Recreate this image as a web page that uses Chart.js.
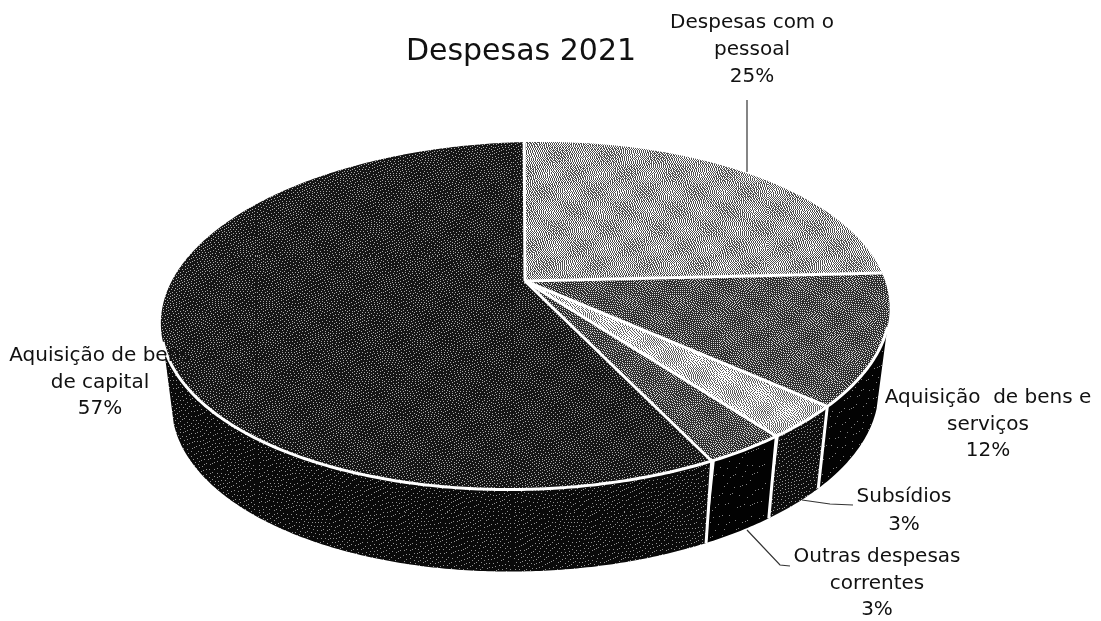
<!DOCTYPE html>
<html><head><meta charset="utf-8">
<style>html,body{margin:0;padding:0;background:#fff}canvas{display:block}</style>
<script src="https://cdn.jsdelivr.net/npm/chart.js@4"></script>
</head><body><canvas id="c" width="1101" height="621"></canvas>
<script>
const titleText = "Despesas 2021";
const categories = ["Despesas com o pessoal","Aquisição de bens e serviços","Subsídios","Outras despesas correntes","Aquisição de bens de capital"];
const values = [25,12,3,3,57];
const topColors = ["#a0a0a0","#5a5a5a","#bebebe","#5a5a5a","#2a2a2a"];
const wallColors = ["#0a0a0a","#060606","#1a1a1a","#050505","#141414"];
const labelLines = [["Despesas com o","pessoal"],["Aquisição  de bens e","serviços"],["Subsídios"],["Outras despesas","correntes"],["Aquisição de bens","de capital"]];

// layout (not data)
const labelPos = [[752,23,27],[988,398,26.5],[904,497,28],[877,557,26.5],[100,356,26.5]];
const leaders = [[[747,100],[747,172]],[],[[802,500],[830,504],[853,505]],[[747,530],[780,565],[790,566]],[]];
const H = {a:357,b:-104,c:525,d:-8,e:110.5,f:281,g:0,h:-0.2};
const DEPTH = 82, WALL_SCALE = 0.97, FRONT = [1.88,4.41];

function project(t,bottom){
  const u=Math.sin(t), v=-Math.cos(t), D=1+H.g*u+H.h*v;
  let x=(H.a*u+H.b*v+H.c)/D, y=(H.d*u+H.e*v+H.f)/D;
  if(bottom){x=H.c+(x-H.c)*WALL_SCALE;y+=DEPTH;}
  return [x,y];
}
function dither(hex){
  const n=256,base=parseInt(hex.slice(1,3),16);
  const lo=base*0.5, hi=Math.min(255,base+125);
  const p=(base-lo)/(hi-lo);
  const cv=document.createElement('canvas');cv.width=cv.height=n;
  const cx=cv.getContext('2d'),img=cx.createImageData(n,n);
  const buf=new Float32Array(n*n*2);
  const w=2*Math.PI/n;
  for(let y=0;y<2*n;y++)for(let x=0;x<n;x++){
    buf[y*n+x]=p*(1+0.22*Math.sin(5*w*x+Math.sin(3*w*y))*Math.sin(7*w*y));
  }
  for(let y=0;y<2*n;y++)for(let x=0;x<n;x++){
    const i=y*n+x,o=buf[i],q=o<0.5?0:1,er=o-q;
    buf[y*n+(x+1)%n]+=er*7/16;
    if(y+1<2*n){
      buf[(y+1)*n+x]+=er*5/16;
      buf[(y+1)*n+(x+n-1)%n]+=er*3/16;
      buf[(y+1)*n+(x+1)%n]+=er/16;
    }
    if(y>=n){
      const s=q?hi:lo,k=((y-n)*n+x)*4;
      img.data[k]=img.data[k+1]=img.data[k+2]=s;img.data[k+3]=255;
    }
  }
  cx.putImageData(img,0,0);
  return cx.createPattern(cv,'repeat');
}
const pie3d={
  id:'pie3d',
  beforeDatasetsDraw(chart){
    const ctx=chart.ctx, arcs=chart.getDatasetMeta(0).data;
    const th=arcs.map(a=>[a.startAngle+Math.PI/2,a.endAngle+Math.PI/2]);
    const STEP=0.01;
    ctx.save();
    arcs.forEach((a,i)=>{
      const s=Math.max(th[i][0],FRONT[0]),e=Math.min(th[i][1],FRONT[1]);
      if(e<=s)return;
      ctx.beginPath();
      for(let t=s;t<e;t+=STEP){const p=project(t,false);ctx.lineTo(p[0],p[1]);}
      for(let t=e;t>s;t-=STEP){const p=project(t,true);ctx.lineTo(p[0],p[1]);}
      const q=project(s,true);ctx.lineTo(q[0],q[1]);
      ctx.closePath();
      ctx.fillStyle=dither(wallColors[i]);ctx.fill();
    });
    arcs.forEach((a,i)=>{
      ctx.beginPath();ctx.moveTo(H.c,H.f);
      for(let t=th[i][0];t<th[i][1];t+=STEP){const p=project(t,false);ctx.lineTo(p[0],p[1]);}
      const q=project(th[i][1],false);ctx.lineTo(q[0],q[1]);
      ctx.closePath();
      ctx.fillStyle=dither(topColors[i]);ctx.fill();
    });
    ctx.strokeStyle='#fff';ctx.lineWidth=3;ctx.lineJoin='round';
    ctx.beginPath();
    for(let t=FRONT[0];t<FRONT[1];t+=STEP){const p=project(t,false);ctx.lineTo(p[0],p[1]);}
    ctx.stroke();
    arcs.forEach((a,i)=>{
      const t=th[i][0],p=project(t,false);
      ctx.beginPath();ctx.moveTo(H.c,H.f);ctx.lineTo(p[0],p[1]);ctx.stroke();
      if(t>FRONT[0]&&t<FRONT[1]){
        const b=project(t,true);
        ctx.beginPath();ctx.moveTo(p[0],p[1]);ctx.lineTo(b[0],b[1]);ctx.stroke();
      }
    });
    ctx.restore();
    return false;
  },
  afterDraw(chart){
    const ctx=chart.ctx;
    ctx.save();
    ctx.strokeStyle='#333';ctx.lineWidth=1.2;
    leaders.forEach(l=>{
      if(!l.length)return;
      ctx.beginPath();l.forEach(p=>ctx.lineTo(p[0],p[1]));ctx.stroke();
    });
    ctx.fillStyle='#111';ctx.textAlign='center';ctx.textBaseline='middle';
    ctx.font='20px "DejaVu Sans"';
    categories.forEach((c,i)=>{
      const [x,y,lh]=labelPos[i];
      const lines=labelLines[i].concat([values[i]+'%']);
      lines.forEach((s,j)=>ctx.fillText(s,x,y+j*lh));
    });
    ctx.restore();
  }
};
new Chart(document.getElementById('c'),{
  type:'pie',
  data:{labels:categories,datasets:[{data:values,backgroundColor:topColors,borderWidth:0}]},
  options:{
    responsive:false,animation:false,
    layout:{padding:{right:59}},
    plugins:{
      legend:{display:false},tooltip:{enabled:false},
      title:{display:true,text:titleText,fullSize:false,color:'#111',
        font:{family:'"DejaVu Sans"',size:30,weight:'normal'},padding:{top:34,bottom:8}}
    }
  },
  plugins:[pie3d]
});
</script></body></html>
